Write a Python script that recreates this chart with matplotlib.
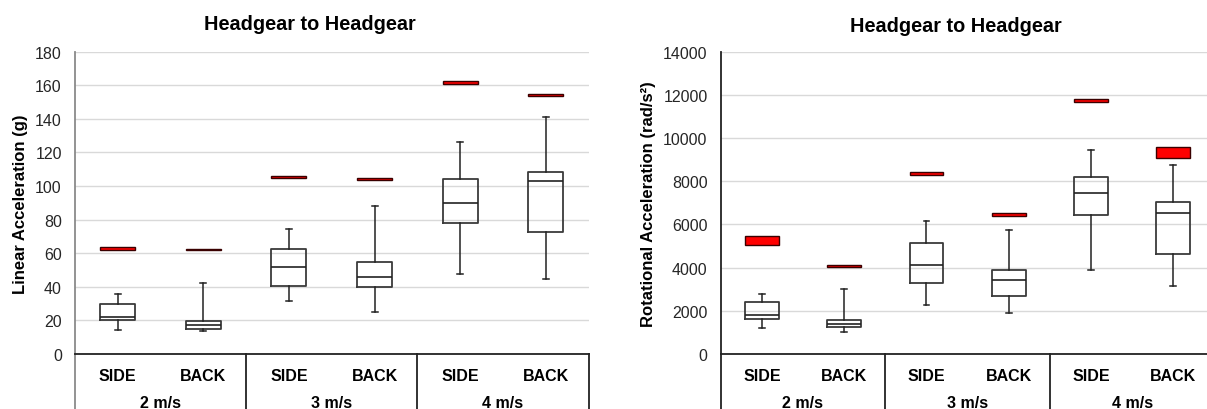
import numpy as np
import matplotlib.pyplot as plt
import matplotlib.transforms as mtransforms

plt.rcParams['font.family'] = ['Liberation Sans', 'DejaVu Sans']

# categories
impact = ["SIDE", "BACK", "SIDE", "BACK", "SIDE", "BACK"]
speeds = ["2 m/s", "3 m/s", "4 m/s"]

# linear acceleration (g): box stats per category
lin_whislo = [14.3, 13.7, 31.3, 25.1, 47.9, 44.4]
lin_q1 = [20.0, 14.7, 40.8, 39.8, 77.8, 72.9]
lin_med = [22.2, 17.4, 51.7, 46.1, 90.1, 103.2]
lin_q3 = [29.7, 19.4, 62.6, 55.0, 104.4, 108.3]
lin_whishi = [35.6, 42.4, 74.7, 88.1, 126.5, 141.2]
# red reference bands (low, high)
lin_red_lo = [62.2, 62.2, 104.6, 103.8, 160.8, 153.9]
lin_red_hi = [63.8, 62.6, 105.9, 104.8, 162.4, 154.7]

# rotational acceleration (rad/s^2)
rot_whislo = [1219, 1034, 2284, 1883, 3874, 3133]
rot_q1 = [1605, 1235, 3272, 2701, 6421, 4646]
rot_med = [1790, 1389, 4137, 3427, 7440, 6514]
rot_q3 = [2408, 1559, 5124, 3874, 8211, 7054]
rot_whishi = [2778, 2994, 6143, 5757, 9462, 8767]
rot_red_lo = [5032, 4013, 8273, 6375, 11653, 9091]
rot_red_hi = [5449, 4106, 8443, 6544, 11808, 9570]

fig = plt.figure(figsize=(12.07, 4.10), dpi=100)


def draw_panel(ax, whislo, q1, med, q3, whishi, red_lo, red_hi, ymax, ystep, ylabel, left_col):
    x = np.arange(len(impact))
    stats = []
    for i in range(len(impact)):
        stats.append(dict(whislo=whislo[i], q1=q1[i], med=med[i], q3=q3[i], whishi=whishi[i]))
    ax.bxp(stats, positions=x, widths=0.41, showfliers=False, capwidths=0.07,
           boxprops=dict(color='#3a3a3a', lw=1.3),
           medianprops=dict(color='#222222', lw=1.2),
           whiskerprops=dict(color='#222222', lw=1.1),
           capprops=dict(color='#222222', lw=1.1),
           manage_ticks=False)
    lo = np.array(red_lo)
    hi = np.array(red_hi)
    ax.bar(x, hi - lo, bottom=lo, width=0.41, color='#ff0000', edgecolor='#3a0000', lw=1.0, zorder=3)

    ax.set_xlim(-0.5, len(impact) - 0.5)
    ax.set_ylim(0, ymax)
    ax.set_yticks(np.arange(0, ymax + 1, ystep))
    ax.yaxis.grid(True, color='#d9d9d9', lw=1)
    ax.set_axisbelow(True)
    ax.tick_params(axis='y', length=0, pad=9.5, labelsize=11.5, labelcolor='#262626')
    ax.set_xticks(x)
    ax.set_xticklabels(impact, fontweight='bold', fontsize=11.5)
    ax.tick_params(axis='x', length=0, pad=10)
    for s in ['top', 'right']:
        ax.spines[s].set_visible(False)
    ax.spines['left'].set_color(left_col)
    ax.spines['left'].set_linewidth(1.3)
    ax.spines['bottom'].set_color('#222222')
    ax.spines['bottom'].set_linewidth(1.3)
    ax.set_ylabel(ylabel, fontweight='bold', fontsize=12, labelpad=5)

    trans = mtransforms.blended_transform_factory(ax.transData, ax.transAxes)
    for xs, col in [(-0.5, left_col), (1.5, '#222222'), (3.5, '#222222'), (5.5, '#222222')]:
        ax.plot([xs, xs], [0, -0.25], transform=trans, clip_on=False, color=col, lw=1.3)
    for g, name in enumerate(speeds):
        ax.text(2 * g + 0.5, -0.16, name, transform=trans, ha='center', va='center',
                fontweight='bold', fontsize=11.5)


ax1 = fig.add_axes([0.0621, 0.134, 0.4255, 0.7375])
draw_panel(ax1, lin_whislo, lin_q1, lin_med, lin_q3, lin_whishi, lin_red_lo, lin_red_hi,
           180, 20, "Linear Acceleration (g)", '#8a8a8a')
ax2 = fig.add_axes([0.5971, 0.134, 0.4091, 0.7375])
draw_panel(ax2, rot_whislo, rot_q1, rot_med, rot_q3, rot_whishi, rot_red_lo, rot_red_hi,
           14000, 2000, "Rotational Acceleration (rad/s²)", '#222222')

fig.text(310 / 1207, 1 - 25 / 410, "Headgear to Headgear", ha='center', va='center',
         fontweight='bold', fontsize=14.3)
fig.text(956 / 1207, 1 - 27 / 410, "Headgear to Headgear", ha='center', va='center',
         fontweight='bold', fontsize=14.3)

fig.savefig("out.png", dpi=100)
